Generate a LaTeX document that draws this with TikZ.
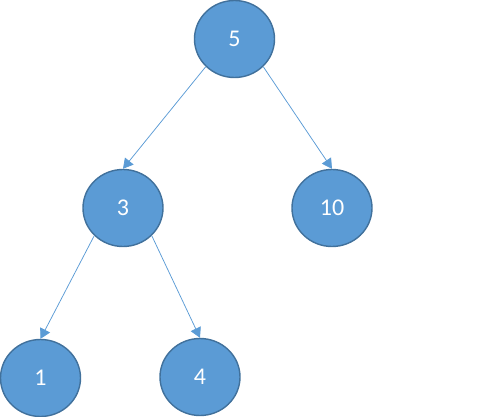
\documentclass[tikz,border=0pt]{standalone}
\usepackage{fontspec}
\setmainfont{Carlito}
\usetikzlibrary{shapes.geometric}
\usetikzlibrary{arrows.meta}
\definecolor{nodeblue}{RGB}{91,155,213}
\definecolor{edgeblue}{RGB}{65,113,156}

\begin{document}
\begin{tikzpicture}[x=1pt,y=-1pt,
		key/.style={ellipse,fill=nodeblue,draw=edgeblue,line width=1.4pt,minimum width=80pt,minimum height=77pt,inner sep=0pt,text=white,font=\fontsize{24}{28}\selectfont},
		link/.style={draw=nodeblue,line width=0.75pt,-{Triangle[length=10pt,width=11pt]}}]
					\useasboundingbox (0,0) rectangle (479,417);

					\node [key] (five) at (234.5,39) {5};
					\node [key] (three) at (123,208) {3};
					\node [key] (ten) at (332,208) {10};
					\node [key] (one) at (40.5,378) {1};
					\node [key] (four) at (200,377) {4};

					\draw [link] (five.south west) to (three.north);
					\draw [link] (five.south east) to (ten.north);
					\draw [link] (three.south west) to (one.north);
					\draw [link] (three.south east) to (four.north);
				\end{tikzpicture}
\end{document}
